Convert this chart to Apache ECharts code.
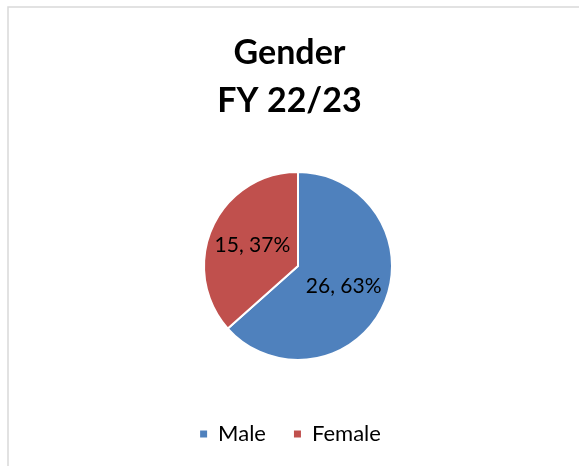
<!DOCTYPE html>
<html>
<head>
<meta charset="utf-8">
<script src="https://cdn.jsdelivr.net/npm/echarts@6/dist/echarts.min.js"></script>
<style>
html, body { margin: 0; padding: 0; background: #fff; }
#main { width: 579px; height: 466px; }
</style>
</head>
<body>
<div id="main"></div>
<script>
// 数据
var categories = ['Male', 'Female'];
var values = [26, 15];
var colors = ['#4f81bd', '#c0504d'];

var myChart = echarts.init(document.getElementById('main'));

var option = {
	backgroundColor: '#fff',
	color: colors,
	title: {
		text: 'Gender\nFY 22/23',
		left: 'center',
		top: 24,
		textStyle: {
			fontFamily: 'Lato',
			fontWeight: 'bold',
			fontSize: 34,
			lineHeight: 48,
			color: '#000'
		}
	},
	legend: {
		top: 418,
		left: 'center',
		icon: 'rect',
		itemWidth: 9,
		itemHeight: 9,
		itemGap: 26,
		textStyle: {
			fontFamily: 'Lato',
			fontSize: 22,
			color: '#000',
			padding: [0, 0, 0, 5]
		},
		data: categories
	},
	graphic: [{
		type: 'rect',
		shape: { x: 8, y: 7, width: 600, height: 500 },
		style: { fill: 'none', stroke: '#d9d9d9', lineWidth: 1.5 },
		silent: true
	}],
	series: [{
		name: 'Gender',
		type: 'pie',
		radius: ['0%', 94],
		center: [298, 266],
		startAngle: 90,
		clockwise: true,
		percentPrecision: 0,
		itemStyle: {
			borderColor: '#fff',
			borderWidth: 2
		},
		label: {
			position: 'inside',
			formatter: '{c}, {d}%',
			fontFamily: 'Lato',
			fontSize: 21,
			color: '#000'
		},
		labelLine: { show: false },
		data: categories.map(function (name, i) {
			return { name: name, value: values[i] };
		})
	}]
};

myChart.setOption(option);
</script>
</body>
</html>
